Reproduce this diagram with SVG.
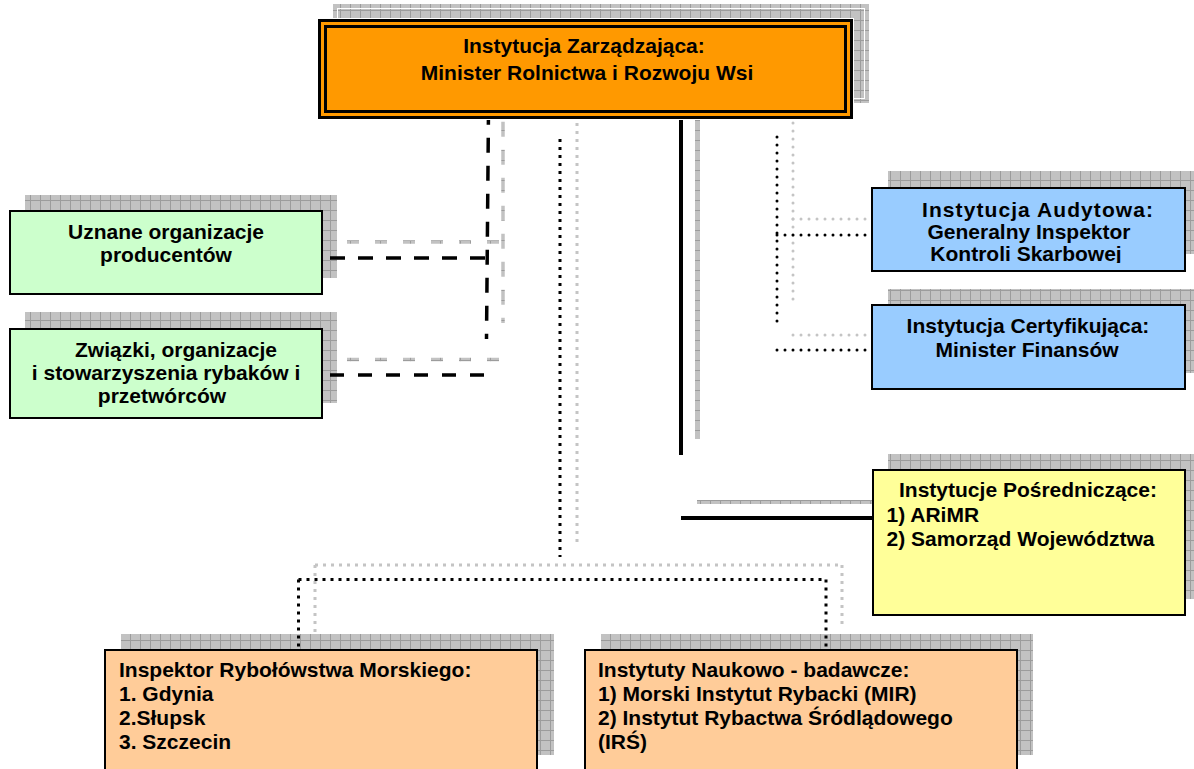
<svg xmlns="http://www.w3.org/2000/svg" width="1194" height="769" viewBox="0 0 1194 769">
<defs>
<pattern id="hatch" width="10" height="10" patternUnits="userSpaceOnUse">
<rect width="10" height="10" fill="#c2c2c2"/>
<path d="M0 0.5H10M0.5 0V10" stroke="#9c9c9c" stroke-width="1" fill="none"/>
</pattern>
<clipPath id="clipAud"><rect x="872" y="188" width="313" height="75"/></clipPath>
</defs>
<style>
.t{font-family:"Liberation Sans",Arial,sans-serif;font-weight:bold;font-size:21px;fill:#000}
.m{text-anchor:middle}
.box{stroke:#000;stroke-width:2}
.sh{fill:url(#hatch)}
.dash{fill:none;stroke:#000;stroke-width:3.5;stroke-dasharray:15 13}
.gdash{fill:none;stroke:url(#hatch);stroke-width:3.5;stroke-dasharray:12 16}
.sq{fill:none;stroke:#000;stroke-width:3;stroke-dasharray:3 5}
.gsq{fill:none;stroke:#c4c4c4;stroke-width:3;stroke-dasharray:3 5}
.rd{fill:none;stroke:#000;stroke-width:3;stroke-linecap:round;stroke-dasharray:0 8}
.grd{fill:none;stroke:#c4c4c4;stroke-width:3;stroke-linecap:round;stroke-dasharray:0 8}
.sol{fill:none;stroke:#000;stroke-width:4}
.gsol{fill:none;stroke:url(#hatch);stroke-width:5}
</style>
<rect width="1194" height="769" fill="#fff"/>
<g id="shadows">
<rect class="sh" x="333" y="4" width="536" height="99"/>
<rect x="337.5" y="8.5" width="527" height="90" fill="none" stroke="#fff" stroke-width="1"/>
<rect class="sh" x="25" y="195" width="312" height="83"/>
<rect class="sh" x="25" y="312" width="312" height="91"/>
<rect class="sh" x="888" y="171" width="313" height="83"/>
<rect class="sh" x="888" y="289" width="313" height="84"/>
<rect class="sh" x="888" y="454" width="313" height="145"/>
<rect class="sh" x="121" y="634" width="433" height="121"/>
<rect class="sh" x="601" y="634" width="432" height="121"/>
</g>
<g id="connectors">
<path class="gdash" d="M503 121.7V323" style="stroke-dasharray:15 13"/>
<path class="gdash" d="M347 242H503"/>
<path class="gdash" d="M347 359.5H503"/>
<path class="dash" d="M488.5 109.7L486.5 339"/>
<path class="dash" d="M330 258H487"/>
<path class="dash" d="M330 375H486" style="stroke-dasharray:14 14"/>
<path class="gsq" d="M577 123V547"/>
<path class="gsq" d="M315 565H842"/>
<path class="gsq" d="M315 565V632"/>
<path class="gsq" d="M842 565V628"/>
<path class="sq" d="M560 139V557"/>
<path class="sq" d="M298.5 579.5H826"/>
<path class="sq" d="M298.5 579.5V650"/>
<path class="sq" d="M826 579.5V648"/>
<path class="grd" d="M793 123V305"/>
<path class="grd" d="M793 219H888"/>
<path class="grd" d="M793 335H888"/>
<path class="rd" d="M777 137V322"/>
<path class="rd" d="M777 235H867"/>
<path class="rd" d="M777 350H867"/>
<path class="gsol" d="M697.5 116V439"/>
<path class="gsol" d="M697 502H888" style="stroke-width:4"/>
<path class="sol" d="M681 118V455"/>
<path class="sol" d="M681 518H873"/>
</g>
<g id="n-top">
<rect x="318" y="19" width="535" height="100" fill="none" stroke="#fff" stroke-width="2"/>
<rect x="319.5" y="20.5" width="532" height="97" fill="#ff9900" stroke="#000" stroke-width="3"/>
<rect x="325.5" y="26.5" width="520" height="85" fill="none" stroke="#000" stroke-width="3"/>
<text class="t m" x="584" y="53">Instytucja Zarządzająca:</text>
<text class="t m" x="587" y="80">Minister Rolnictwa i Rozwoju Wsi</text>
</g>
<g id="n-uznane">
<rect class="box" x="10" y="211" width="312" height="83" fill="#ccffcc"/>
<text class="t m" x="166" y="239">Uznane organizacje</text>
<text class="t m" x="166" y="262">producentów</text>
</g>
<g id="n-zwiazki">
<rect class="box" x="10" y="329" width="312" height="89" fill="#ccffcc"/>
<text class="t m" x="176" y="357">Związki, organizacje</text>
<text class="t m" x="166" y="380">i stowarzyszenia rybaków i</text>
<text class="t m" x="162" y="403">przetwórców</text>
</g>
<g id="n-audyt">
<rect class="box" x="872" y="188" width="313" height="83" fill="#99ccff"/>
<g clip-path="url(#clipAud)">
<text class="t" x="922" y="216.5" textLength="231" lengthAdjust="spacing">Instytucja Audytowa:</text>
<text class="t m" x="1029" y="239">Generalny Inspektor</text>
<text class="t m" x="1026" y="261">Kontroli Skarbowej</text>
</g>
</g>
<g id="n-cert">
<rect class="box" x="872" y="305" width="313" height="84" fill="#99ccff"/>
<text class="t m" x="1028" y="333">Instytucja Certyfikująca:</text>
<text class="t m" x="1027" y="356.5">Minister Finansów</text>
</g>
<g id="n-posr">
<rect class="box" x="873" y="470" width="312" height="145" fill="#ffff99"/>
<text class="t m" x="1028" y="497">Instytucje Pośredniczące:</text>
<text class="t" x="886.5" y="521.5">1) ARiMR</text>
<text class="t" x="886.5" y="545.5">2) Samorząd Województwa</text>
</g>
<g id="n-inspektor">
<rect class="box" x="105" y="650" width="432" height="122" fill="#ffcc99"/>
<text class="t" x="119" y="677">Inspektor Rybołówstwa Morskiego:</text>
<text class="t" x="119" y="701">1. Gdynia</text>
<text class="t" x="119" y="725">2.Słupsk</text>
<text class="t" x="119" y="749">3. Szczecin</text>
</g>
<g id="n-instytuty">
<rect class="box" x="585" y="650" width="432" height="122" fill="#ffcc99"/>
<text class="t" x="598" y="677">Instytuty Naukowo - badawcze:</text>
<text class="t" x="598" y="701">1) Morski Instytut Rybacki (MIR)</text>
<text class="t" x="598" y="725">2) Instytut Rybactwa Śródlądowego</text>
<text class="t" x="598" y="749">(IRŚ)</text>
</g>
</svg>
